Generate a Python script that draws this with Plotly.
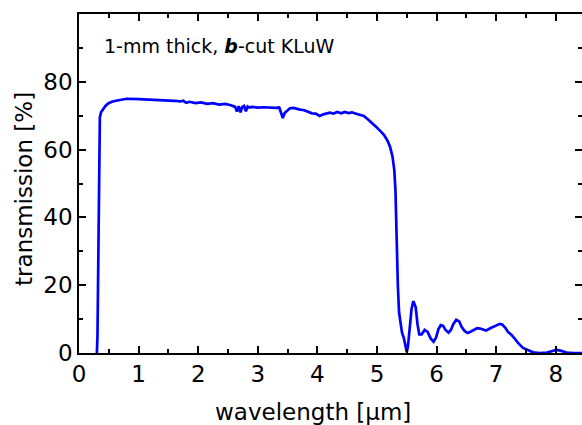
import plotly.graph_objects as go

wavelength = [0.28, 0.30, 0.31, 0.32, 0.33, 0.34, 0.35, 0.37, 0.40, 0.44, 0.49, 0.55, 0.62, 0.69, 0.75, 0.80,
              1.00, 1.20, 1.40, 1.60, 1.70, 1.75, 1.80, 1.86, 1.95, 2.05, 2.15, 2.25, 2.35, 2.45, 2.55,
              2.62, 2.65, 2.68, 2.71, 2.74, 2.77, 2.80, 2.83, 2.86, 2.90, 3.00, 3.10, 3.20, 3.30, 3.36,
              3.40, 3.42, 3.45, 3.50, 3.54, 3.60, 3.65, 3.71, 3.78, 3.85, 3.91, 3.97, 4.04, 4.10, 4.15,
              4.21, 4.27, 4.33, 4.40, 4.46, 4.52, 4.58, 4.65, 4.71, 4.78, 4.85, 4.92, 4.98, 5.05, 5.12,
              5.18, 5.22, 5.26, 5.29, 5.31, 5.32, 5.33, 5.34, 5.35, 5.37, 5.40, 5.42, 5.45, 5.48, 5.50,
              5.52, 5.55, 5.58, 5.61, 5.65, 5.68, 5.71, 5.75, 5.80, 5.85, 5.90, 5.95, 5.99, 6.03, 6.07,
              6.11, 6.15, 6.20, 6.24, 6.28, 6.33, 6.38, 6.42, 6.47, 6.52, 6.56, 6.62, 6.68, 6.73, 6.78,
              6.83, 6.90, 6.97, 7.03, 7.06, 7.10, 7.15, 7.20, 7.25, 7.30, 7.37, 7.45, 7.54, 7.62, 7.73,
              7.85, 7.93, 8.01, 8.08, 8.18, 8.30, 8.45]
transmission = [0.0, 0.0, 5.0, 25.0, 50.0, 64.0, 69.5, 71.0, 71.8, 72.8, 73.6, 74.1, 74.4, 74.7, 74.9, 75.0,
                74.9, 74.8, 74.6, 74.4, 74.2, 74.4, 73.8, 74.1, 73.7, 73.9, 73.5, 73.7, 73.3, 73.5, 73.1,
                72.6, 71.2, 72.8, 71.0, 72.6, 72.9, 71.3, 72.7, 72.4, 72.6, 72.4, 72.5, 72.3, 72.3, 72.4,
                70.5, 69.3, 70.8, 71.7, 72.2, 72.3, 72.0, 71.8, 71.6, 71.1, 70.7, 70.6, 69.9, 70.4, 70.6,
                70.9, 70.6, 71.1, 70.7, 71.1, 70.8, 71.0, 70.6, 70.3, 69.9, 68.9, 67.9, 66.8, 65.6, 64.3,
                62.5, 60.8, 58.0, 54.0, 48.0, 40.0, 32.0, 26.0, 20.0, 12.0, 8.0, 6.0, 4.5, 1.5, 0.3,
                2.0, 8.0, 13.0, 15.3, 13.5, 8.5, 5.5, 5.5, 6.8, 6.2, 4.3, 3.3, 4.5, 7.0, 8.2,
                8.0, 6.8, 6.0, 6.8, 8.5, 9.8, 9.3, 7.7, 6.5, 5.9, 6.2, 6.8, 7.3, 7.2, 6.8,
                6.6, 7.3, 7.9, 8.5, 8.6, 8.4, 7.5, 6.2, 5.5, 4.5, 2.9, 1.5, 0.7, 0.2, 0.0,
                0.1, 0.5, 0.9, 0.7, 0.15, 0.0, 0.0]

y_ticks = [0, 20, 40, 60, 80]
x_ticks = [0, 1, 2, 3, 4, 5, 6, 7, 8]

fig = go.Figure()
fig.add_trace(go.Scatter(x=wavelength, y=transmission, mode="lines",
                         line=dict(color="#0000FF", width=2.7), hoverinfo="skip"))
# invisible trace so the right-hand tick axis is drawn
fig.add_trace(go.Scatter(x=[None], y=[None], yaxis="y2", mode="lines", hoverinfo="skip"))

font = "DejaVu Sans, sans-serif"
tick_style = dict(ticks="inside", ticklen=7, tickwidth=1.5, tickcolor="black")
fig.update_layout(
    width=582, height=425,
    margin=dict(l=79, r=0, t=14, b=72),
    paper_bgcolor="white", plot_bgcolor="white",
    showlegend=False,
    font=dict(family=font, color="black", size=23),
    xaxis=dict(range=[0, 8.44], tickvals=x_ticks, **tick_style,
               minor=dict(dtick=0.5, ticks="inside", ticklen=4, tickwidth=1.5, tickcolor="black"),
               showline=True, linecolor="black", linewidth=1.5, mirror="ticks",
               showgrid=False, zeroline=False,
               tickfont=dict(size=23)),
    yaxis=dict(range=[0, 100], tickvals=y_ticks, **tick_style,
               minor=dict(dtick=10, ticks="inside", ticklen=4, tickwidth=1.5, tickcolor="black"),
               showline=True, linecolor="black", linewidth=1.5, mirror=False,
               showgrid=False, zeroline=False,
               tickfont=dict(size=23)),
    yaxis2=dict(range=[0, 100], tickvals=y_ticks, overlaying="y", side="right", **tick_style,
                minor=dict(dtick=10, ticks="inside", ticklen=4, tickwidth=1.5, tickcolor="black"),
                showline=False, showticklabels=False, showgrid=False, zeroline=False),
    annotations=[
        dict(text="1-mm thick, <b><i>b</i></b>-cut KLuW", xref="paper", yref="paper",
             x=0.046, y=0.905, xanchor="left", yanchor="middle", showarrow=False,
             font=dict(size=19, family=font, color="black")),
        dict(text="wavelength [μm]", xref="paper", yref="paper",
             x=0.465, y=0, yshift=-59, xanchor="center", yanchor="middle", showarrow=False,
             font=dict(size=23, family=font, color="black")),
        dict(text="transmission [%]", xref="paper", yref="paper", textangle=-90,
             x=0, xshift=-55, y=0.484, xanchor="center", yanchor="middle", showarrow=False,
             font=dict(size=23, family=font, color="black")),
    ],
)

fig.write_html("out.html")
